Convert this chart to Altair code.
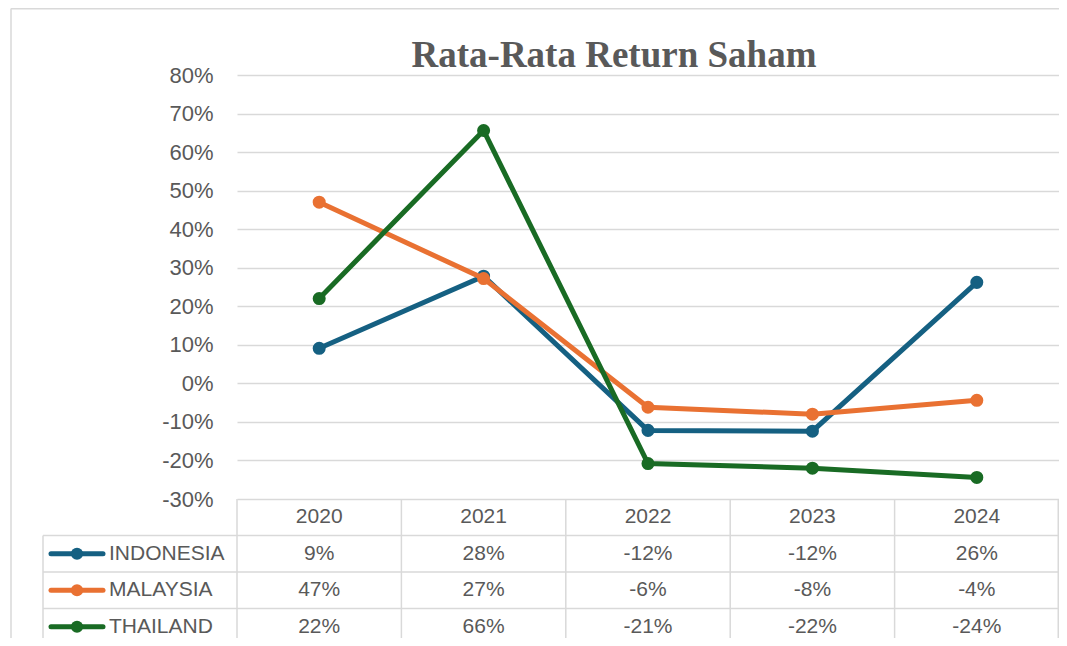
import altair as alt
import pandas as pd

# ---------------- data ----------------
years = ["2020", "2021", "2022", "2023", "2024"]
countries = ["INDONESIA", "MALAYSIA", "THAILAND"]
indonesia = [0.091, 0.278, -0.122, -0.124, 0.262]
malaysia = [0.470, 0.272, -0.062, -0.080, -0.044]
thailand = [0.220, 0.656, -0.208, -0.220, -0.244]
colors = ["#156082", "#E97132", "#196B24"]
y_ticks = [-0.3, -0.2, -0.1, 0.0, 0.1, 0.2, 0.3, 0.4, 0.5, 0.6, 0.7, 0.8]
title_text = "Rata-Rata Return Saham"

rows = []
for c, vals in zip(countries, [indonesia, malaysia, thailand]):
    for yr, v in zip(years, vals):
        rows.append({"country": c, "year": yr, "value": v,
                     "label": f"{round(v * 100)}%", "row": c})
df = pd.DataFrame(rows)
hdr = pd.DataFrame({"year": years, "row": ["YEAR"] * len(years)})
leg = pd.DataFrame({"country": countries, "row": countries})

# ---------------- layout ----------------
W, H, ROW = 822, 424, 36.5
TXT = "#595959"
GRID = "#D9D9D9"
FONT = "Liberation Sans"
TFS = 21

x_scale = alt.Scale(type="band", domain=years, paddingInner=0, paddingOuter=0)
y_scale = alt.Scale(domain=[-0.3, 0.8], nice=False, zero=False)
row_domain = ["YEAR"] + countries
row_scale = alt.Scale(type="band", domain=row_domain, range=[H, H + 4 * ROW],
                      paddingInner=0, paddingOuter=0)
color_scale = alt.Scale(domain=countries, range=colors)

y_axis = alt.Axis(values=y_ticks, labelExpr="round(datum.value*100) + '%'",
                  grid=True, domain=False, ticks=False, labelPadding=24,
                  labelFont=FONT, labelFontSize=22, labelColor=TXT,
                  gridColor=GRID, gridWidth=1.3, title=None)

X_mid = alt.X("year:N", scale=x_scale, bandPosition=0.5, axis=None)

series_layers = []
for c, col in zip(countries, colors):
    base = alt.Chart(df).transform_filter(alt.datum.country == c)
    enc = dict(x=X_mid, y=alt.Y("value:Q", scale=y_scale, axis=y_axis))
    series_layers.append(base.mark_line(strokeWidth=5, color=col).encode(**enc))
    series_layers.append(base.mark_point(filled=True, size=170, opacity=1,
                                         color=col).encode(**enc))
lines_group = alt.layer(*series_layers)

# ---------------- table ----------------
Y_row = alt.Y("row:N", scale=row_scale, bandPosition=0.5, axis=None)
Y_row_top = alt.Y("row:N", scale=row_scale, bandPosition=0, axis=None)

header_text = alt.Chart(hdr).mark_text(font=FONT, fontSize=TFS, color=TXT,
                                       baseline="middle").encode(
    x=X_mid, y=Y_row, text="year:N")
value_text = alt.Chart(df).mark_text(font=FONT, fontSize=TFS, color=TXT,
                                     baseline="middle").encode(
    x=X_mid, y=Y_row, text="label:N")

hlines = alt.Chart(leg).mark_rule(color=GRID, strokeWidth=1.5).encode(
    y=Y_row_top, x=alt.value(-194), x2=alt.value(W))
vlines = alt.Chart(hdr).mark_rule(color=GRID, strokeWidth=1.5).encode(
    x=alt.X("year:N", scale=x_scale, bandPosition=0, axis=None),
    y=alt.value(H), y2=alt.value(H + 4 * ROW + 10))
vline_right = alt.Chart(hdr.head(1)).mark_rule(color=GRID, strokeWidth=1.5).encode(
    x=alt.value(W - 0.75), y=alt.value(H), y2=alt.value(H + 4 * ROW + 10))
vline_left = alt.Chart(hdr.head(1)).mark_rule(color=GRID, strokeWidth=1.5).encode(
    x=alt.value(-194), y=alt.value(H + ROW), y2=alt.value(H + 4 * ROW + 10))

legend_lines = alt.Chart(leg).mark_rule(strokeWidth=5, strokeCap="round").encode(
    y=Y_row, x=alt.value(-186), x2=alt.value(-134),
    color=alt.Color("country:N", scale=color_scale, legend=None))
legend_pts = alt.Chart(leg).mark_point(filled=True, size=150, opacity=1).encode(
    y=Y_row, x=alt.value(-160),
    color=alt.Color("country:N", scale=color_scale, legend=None))
legend_text = alt.Chart(leg).mark_text(font=FONT, fontSize=TFS, color=TXT,
                                       align="left", baseline="middle").encode(
    y=Y_row, x=alt.value(-128), text="country:N")

table_group = alt.layer(vlines, vline_right, vline_left, hlines,
                        header_text, value_text,
                        legend_lines, legend_pts, legend_text)

# ---------------- title & frame ----------------
title_layer = alt.Chart(pd.DataFrame({"t": [title_text]})).mark_text(
    font="Liberation Serif", fontWeight="bold", fontSize=37, color=TXT,
    align="center", baseline="alphabetic").encode(
    text="t:N", x=alt.value(377), y=alt.value(-8))

frame_left = alt.Chart(hdr.head(1)).mark_rule(color=GRID, strokeWidth=1.5).encode(
    x=alt.value(-226), y=alt.value(-66.5), y2=alt.value(H + 4 * ROW + 10))
frame_top = alt.Chart(hdr.head(1)).mark_rule(color=GRID, strokeWidth=1.5).encode(
    y=alt.value(-66.2), x=alt.value(-226), x2=alt.value(W + 10))

chart = alt.layer(frame_left, frame_top, title_layer, lines_group, table_group).resolve_scale(
    y="independent", color="independent"
).properties(
    width=W, height=H,
    autosize=alt.AutoSizeParams(type="none"),
    padding={"left": 229, "top": 67, "right": 0, "bottom": 139},
).configure_view(stroke=None)

chart.save("out.html", embed_options={"renderer": "svg", "actions": False})
